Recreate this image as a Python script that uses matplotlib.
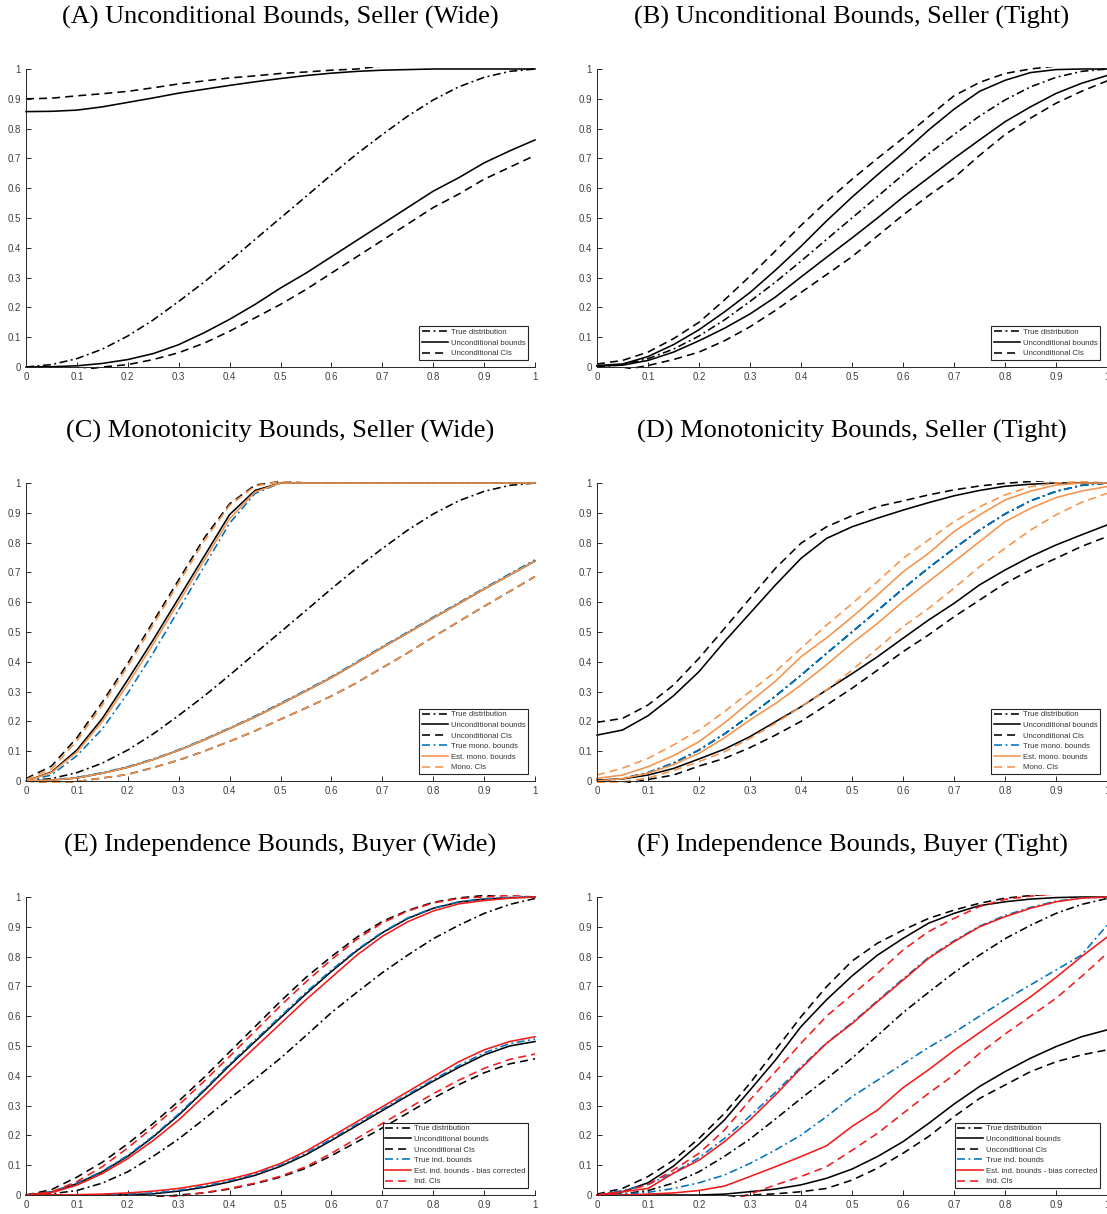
import numpy as np
import matplotlib
matplotlib.use("Agg")
import matplotlib.pyplot as plt
from matplotlib.patches import Rectangle

# grid of evaluation points (0, 0.05, ..., 1)
x = np.linspace(0, 1, 21)

# true distributions
true_seller = [0, 0.008, 0.028, 0.06, 0.104, 0.158, 0.22, 0.285, 0.355, 0.428, 0.5,
               0.572, 0.645, 0.715, 0.78, 0.842, 0.896, 0.94, 0.972, 0.992, 1.0]
true_buyer = [0, 0.004, 0.015, 0.04, 0.078, 0.13, 0.188, 0.255, 0.324, 0.39, 0.459,
              0.535, 0.612, 0.68, 0.746, 0.805, 0.86, 0.905, 0.945, 0.975, 0.995]

# (A) unconditional, seller, wide
a_unc_up = [0.857, 0.858, 0.862, 0.873, 0.888, 0.903, 0.919, 0.932, 0.945, 0.957, 0.968,
            0.978, 0.986, 0.992, 0.996, 0.998, 1.0, 1.0, 1.0, 1.0, 1.0]
a_unc_lo = [0, 0.001, 0.004, 0.012, 0.025, 0.045, 0.075, 0.115, 0.16, 0.21, 0.265,
            0.315, 0.37, 0.425, 0.48, 0.535, 0.59, 0.635, 0.685, 0.725, 0.762]
a_ci_up = [0.9, 0.902, 0.91, 0.917, 0.925, 0.937, 0.95, 0.96, 0.97, 0.977, 0.985,
           0.99, 0.996, 1.0, 1.01, 1.02, 1.03, 1.04, 1.05, 1.06, 1.06]
a_ci_lo = [-0.03, -0.025, -0.012, 0.0, 0.008, 0.025, 0.048, 0.08, 0.12, 0.165, 0.21,
           0.26, 0.315, 0.37, 0.425, 0.48, 0.535, 0.58, 0.63, 0.67, 0.71]

# (B) unconditional, seller, tight
b_unc_up = [0.005, 0.01, 0.035, 0.075, 0.125, 0.185, 0.25, 0.325, 0.405, 0.49, 0.57,
            0.645, 0.718, 0.795, 0.865, 0.925, 0.962, 0.988, 0.998, 1.0, 1.0]
b_unc_lo = [0.003, 0.006, 0.022, 0.05, 0.088, 0.13, 0.178, 0.235, 0.302, 0.368, 0.433,
            0.5, 0.57, 0.635, 0.7, 0.762, 0.823, 0.873, 0.918, 0.952, 0.978]
b_ci_up = [0.01, 0.022, 0.05, 0.095, 0.15, 0.225, 0.305, 0.39, 0.475, 0.555, 0.63,
           0.7, 0.768, 0.84, 0.91, 0.955, 0.985, 1.0, 1.01, 1.02, 1.03]
b_ci_lo = [-0.02, -0.01, 0.005, 0.025, 0.05, 0.088, 0.135, 0.19, 0.25, 0.31, 0.37,
           0.44, 0.51, 0.575, 0.635, 0.71, 0.78, 0.835, 0.885, 0.925, 0.96]

# (C) monotonicity, seller, wide
c_unc_up = [0.0, 0.03, 0.104, 0.21, 0.34, 0.474, 0.614, 0.754, 0.894, 0.975, 1.0,
            1.0, 1.0, 1.0, 1.0, 1.0, 1.0, 1.0, 1.0, 1.0, 1.0]
c_unc_lo = [0, 0.003, 0.01, 0.026, 0.046, 0.072, 0.103, 0.138, 0.176, 0.215, 0.258,
            0.302, 0.347, 0.397, 0.448, 0.497, 0.547, 0.595, 0.644, 0.691, 0.738]
c_ci_up = [0.008, 0.05, 0.145, 0.265, 0.395, 0.535, 0.675, 0.815, 0.93, 0.993, 1.005,
           1.01, 1.01, 1.01, 1.01, 1.01, 1.01, 1.01, 1.01, 1.01, 1.01]
c_ci_lo = [-0.01, -0.005, -0.002, 0.01, 0.022, 0.045, 0.07, 0.1, 0.133, 0.168, 0.207,
           0.245, 0.285, 0.33, 0.38, 0.43, 0.483, 0.535, 0.586, 0.636, 0.686]
c_true_mono_up = [0.0, 0.02, 0.085, 0.175, 0.295, 0.43, 0.575, 0.72, 0.865, 0.965, 1.0,
                  1.0, 1.0, 1.0, 1.0, 1.0, 1.0, 1.0, 1.0, 1.0, 1.0]
c_true_mono_lo = [0, 0.004, 0.012, 0.028, 0.048, 0.074, 0.105, 0.14, 0.178, 0.218, 0.261,
                  0.305, 0.35, 0.4, 0.451, 0.5, 0.55, 0.598, 0.647, 0.695, 0.742]
c_mono_up = [0.0, 0.028, 0.097, 0.2, 0.325, 0.46, 0.6, 0.74, 0.88, 0.97, 1.0,
             1.0, 1.0, 1.0, 1.0, 1.0, 1.0, 1.0, 1.0, 1.0, 1.0]
c_mono_lo = [0, 0.003, 0.01, 0.026, 0.046, 0.072, 0.103, 0.138, 0.176, 0.215, 0.258,
             0.302, 0.347, 0.397, 0.448, 0.497, 0.547, 0.595, 0.644, 0.691, 0.738]
c_mono_ci_up = [0.005, 0.04, 0.135, 0.255, 0.385, 0.525, 0.665, 0.805, 0.925, 0.99, 1.005,
                1.01, 1.01, 1.01, 1.01, 1.01, 1.01, 1.01, 1.01, 1.01, 1.01]
c_mono_ci_lo = [-0.01, -0.005, -0.002, 0.01, 0.022, 0.045, 0.07, 0.1, 0.133, 0.168, 0.207,
                0.245, 0.285, 0.33, 0.38, 0.43, 0.483, 0.535, 0.586, 0.636, 0.686]

# (D) monotonicity, seller, tight
d_unc_up = [0.154, 0.171, 0.219, 0.286, 0.367, 0.468, 0.563, 0.658, 0.747, 0.814, 0.853,
            0.882, 0.909, 0.934, 0.957, 0.975, 0.989, 0.996, 1.0, 1.0, 1.0]
d_unc_lo = [0.003, 0.007, 0.02, 0.042, 0.074, 0.107, 0.149, 0.199, 0.249, 0.305, 0.36,
            0.417, 0.479, 0.54, 0.596, 0.658, 0.708, 0.753, 0.792, 0.826, 0.859]
d_ci_up = [0.197, 0.21, 0.255, 0.322, 0.412, 0.512, 0.613, 0.714, 0.798, 0.853, 0.89,
           0.921, 0.94, 0.96, 0.977, 0.99, 0.999, 1.005, 1.01, 1.01, 1.01]
d_ci_lo = [-0.02, -0.01, 0.005, 0.02, 0.05, 0.076, 0.112, 0.154, 0.2, 0.255, 0.311,
           0.372, 0.434, 0.49, 0.551, 0.607, 0.663, 0.708, 0.747, 0.787, 0.82]
d_mono_up = [0.009, 0.02, 0.048, 0.085, 0.132, 0.195, 0.266, 0.335, 0.417, 0.48, 0.55,
             0.624, 0.702, 0.764, 0.837, 0.893, 0.943, 0.973, 0.993, 1.0, 1.0]
d_mono_lo = [0.0, 0.008, 0.026, 0.055, 0.093, 0.145, 0.205, 0.26, 0.322, 0.39, 0.462,
             0.529, 0.602, 0.669, 0.736, 0.803, 0.87, 0.915, 0.951, 0.973, 0.988]
d_mono_ci_up = [0.02, 0.043, 0.076, 0.121, 0.171, 0.233, 0.3, 0.367, 0.445, 0.523, 0.595,
                0.669, 0.747, 0.809, 0.87, 0.92, 0.96, 0.988, 1.0, 1.005, 1.01]
d_mono_ci_lo = [-0.005, -0.003, 0.01, 0.035, 0.065, 0.098, 0.143, 0.194, 0.249, 0.305, 0.372,
                0.445, 0.518, 0.579, 0.647, 0.719, 0.781, 0.842, 0.893, 0.935, 0.965]

# (E) independence, buyer, wide
e_unc_up = [0, 0.01, 0.038, 0.078, 0.13, 0.195, 0.268, 0.35, 0.435, 0.515, 0.595,
            0.675, 0.75, 0.82, 0.88, 0.928, 0.962, 0.983, 0.993, 0.998, 1.0]
e_unc_lo = [0, 0, 0, 0, 0.001, 0.004, 0.013, 0.026, 0.044, 0.066, 0.096,
            0.135, 0.183, 0.233, 0.283, 0.333, 0.382, 0.428, 0.47, 0.5, 0.515]
e_ci_up = [0.0, 0.018, 0.06, 0.11, 0.172, 0.24, 0.315, 0.395, 0.48, 0.565, 0.65,
           0.73, 0.8, 0.865, 0.918, 0.955, 0.982, 0.997, 1.005, 1.01, 1.01]
e_ci_lo = [-0.05, -0.04, -0.03, -0.02, -0.015, -0.008, 0.0, 0.007, 0.02, 0.038, 0.06,
           0.09, 0.132, 0.178, 0.225, 0.275, 0.325, 0.37, 0.41, 0.44, 0.457]
e_true_ind_up = [0, 0.011, 0.04, 0.08, 0.133, 0.198, 0.272, 0.354, 0.44, 0.52, 0.6,
                 0.68, 0.755, 0.823, 0.882, 0.93, 0.963, 0.984, 0.994, 0.998, 1.0]
e_true_ind_lo = [0, 0, 0, 0.001, 0.003, 0.007, 0.016, 0.03, 0.048, 0.07, 0.1,
                 0.14, 0.188, 0.238, 0.288, 0.338, 0.387, 0.434, 0.477, 0.508, 0.523]
e_ind_up = [0, 0.008, 0.033, 0.072, 0.122, 0.183, 0.252, 0.332, 0.415, 0.495, 0.575,
            0.655, 0.73, 0.805, 0.868, 0.917, 0.953, 0.977, 0.988, 0.996, 1.0]
e_ind_lo = [0, 0, 0.001, 0.003, 0.007, 0.013, 0.022, 0.036, 0.053, 0.075, 0.106,
            0.147, 0.196, 0.246, 0.296, 0.347, 0.397, 0.447, 0.487, 0.515, 0.531]
e_ind_ci_up = [0, 0.01, 0.045, 0.095, 0.158, 0.228, 0.302, 0.382, 0.465, 0.55, 0.635,
               0.715, 0.79, 0.858, 0.913, 0.953, 0.98, 0.995, 1.0, 1.005, 1.01]
e_ind_ci_lo = [-0.05, -0.04, -0.03, -0.02, -0.015, -0.01, -0.004, 0.008, 0.022, 0.04, 0.063,
               0.095, 0.14, 0.19, 0.24, 0.29, 0.34, 0.385, 0.425, 0.455, 0.473]

# (F) independence, buyer, tight
f_unc_up = [0.0, 0.011, 0.041, 0.097, 0.171, 0.252, 0.352, 0.453, 0.565, 0.655, 0.735,
            0.805, 0.861, 0.912, 0.945, 0.971, 0.984, 0.993, 0.998, 1.0, 1.0]
f_unc_lo = [0, 0, 0, 0, 0, 0.003, 0.011, 0.02, 0.034, 0.056, 0.087,
            0.129, 0.179, 0.24, 0.305, 0.364, 0.414, 0.459, 0.498, 0.531, 0.554]
f_ci_up = [0.003, 0.022, 0.062, 0.117, 0.19, 0.274, 0.375, 0.487, 0.598, 0.699, 0.785,
           0.845, 0.889, 0.928, 0.956, 0.979, 0.996, 1.005, 1.01, 1.01, 1.01]
f_ci_lo = [-0.05, -0.04, -0.03, -0.025, -0.02, -0.01, 0.0, 0.004, 0.011, 0.022, 0.05,
           0.09, 0.14, 0.196, 0.263, 0.324, 0.369, 0.414, 0.447, 0.47, 0.487]
f_true_ind_up = [0.0, 0.015, 0.035, 0.075, 0.125, 0.19, 0.265, 0.345, 0.43, 0.51, 0.578,
                 0.652, 0.725, 0.797, 0.853, 0.902, 0.938, 0.965, 0.986, 0.997, 1.0]
f_true_ind_lo = [0.0, 0.003, 0.009, 0.022, 0.041, 0.067, 0.106, 0.151, 0.201, 0.263, 0.33,
                 0.385, 0.44, 0.495, 0.545, 0.6, 0.655, 0.705, 0.755, 0.805, 0.905]
f_ind_up = [0.0, 0.011, 0.022, 0.073, 0.117, 0.179, 0.252, 0.336, 0.425, 0.509, 0.575,
            0.649, 0.721, 0.794, 0.85, 0.9, 0.934, 0.962, 0.984, 0.996, 1.0]
f_ind_lo = [0.0, 0.0, 0.003, 0.007, 0.015, 0.03, 0.062, 0.095, 0.129, 0.165, 0.23,
            0.285, 0.36, 0.42, 0.485, 0.545, 0.605, 0.665, 0.73, 0.8, 0.865]
f_ind_ci_up = [0.0, 0.01, 0.035, 0.084, 0.14, 0.218, 0.319, 0.414, 0.509, 0.6, 0.672,
               0.744, 0.822, 0.884, 0.928, 0.968, 0.992, 1.003, 1.01, 1.01, 1.01]
f_ind_ci_lo = [-0.05, -0.045, -0.04, -0.035, -0.03, -0.02, 0.003, 0.034, 0.062, 0.095, 0.15,
               0.207, 0.274, 0.341, 0.403, 0.475, 0.54, 0.6, 0.66, 0.733, 0.811]

titles = ["(A) Unconditional Bounds, Seller (Wide)", "(B) Unconditional Bounds, Seller (Tight)",
          "(C) Monotonicity Bounds, Seller (Wide)", "(D) Monotonicity Bounds, Seller (Tight)",
          "(E) Independence Bounds, Buyer (Wide)", "(F) Independence Bounds, Buyer (Tight)"]

BLUE = "#0072BD"
ORANGE = "#F5934A"
RED = "#F21A1A"
SOLID = "-"
DASH = (0, (5, 3.2))
DASHDOT = (0, (5, 2.2, 1.2, 2.2))

# (label, colour, linestyle, list of curves)
panels = [
    [("True distribution", "k", DASHDOT, [true_seller]),
     ("Unconditional bounds", "k", SOLID, [a_unc_up, a_unc_lo]),
     ("Unconditional CIs", "k", DASH, [a_ci_up, a_ci_lo])],
    [("True distribution", "k", DASHDOT, [true_seller]),
     ("Unconditional bounds", "k", SOLID, [b_unc_up, b_unc_lo]),
     ("Unconditional CIs", "k", DASH, [b_ci_up, b_ci_lo])],
    [("True distribution", "k", DASHDOT, [true_seller]),
     ("Unconditional bounds", "k", SOLID, [c_unc_up, c_unc_lo]),
     ("Unconditional CIs", "k", DASH, [c_ci_up, c_ci_lo]),
     ("True mono. bounds", BLUE, DASHDOT, [c_true_mono_up, c_true_mono_lo]),
     ("Est. mono. bounds", ORANGE, SOLID, [c_mono_up, c_mono_lo]),
     ("Mono. CIs", ORANGE, DASH, [c_mono_ci_up, c_mono_ci_lo])],
    [("True distribution", "k", DASHDOT, [true_seller]),
     ("Unconditional bounds", "k", SOLID, [d_unc_up, d_unc_lo]),
     ("Unconditional CIs", "k", DASH, [d_ci_up, d_ci_lo]),
     ("True mono. bounds", BLUE, DASHDOT, [true_seller, true_seller]),
     ("Est. mono. bounds", ORANGE, SOLID, [d_mono_up, d_mono_lo]),
     ("Mono. CIs", ORANGE, DASH, [d_mono_ci_up, d_mono_ci_lo])],
    [("True distribution", "k", DASHDOT, [true_buyer]),
     ("Unconditional bounds", "k", SOLID, [e_unc_up, e_unc_lo]),
     ("Unconditional CIs", "k", DASH, [e_ci_up, e_ci_lo]),
     ("True ind. bounds", BLUE, DASHDOT, [e_true_ind_up, e_true_ind_lo]),
     ("Est. ind. bounds - bias corrected", RED, SOLID, [e_ind_up, e_ind_lo]),
     ("Ind. CIs", RED, DASH, [e_ind_ci_up, e_ind_ci_lo])],
    [("True distribution", "k", DASHDOT, [true_buyer]),
     ("Unconditional bounds", "k", SOLID, [f_unc_up, f_unc_lo]),
     ("Unconditional CIs", "k", DASH, [f_ci_up, f_ci_lo]),
     ("True ind. bounds", BLUE, DASHDOT, [f_true_ind_up, f_true_ind_lo]),
     ("Est. ind. bounds - bias corrected", RED, SOLID, [f_ind_up, f_ind_lo]),
     ("Ind. CIs", RED, DASH, [f_ind_ci_up, f_ind_ci_lo])],
]

W, H = 1107, 1214
fig = plt.figure(figsize=(W / 100, H / 100), dpi=100)

col_x = [26, 597]
col_w = [509, 510]
row_top = [69, 483, 897]
row_h = 298
title_y = [17, 431, 845]

ticks = np.linspace(0, 1, 11)
tick_labels = ["0", "0.1", "0.2", "0.3", "0.4", "0.5", "0.6", "0.7", "0.8", "0.9", "1"]
GREY = "#262626"

for i, curves in enumerate(panels):
    r, c = divmod(i, 2)
    ax = fig.add_axes([col_x[c] / W, 1 - (row_top[r] + row_h) / H, col_w[c] / W, row_h / H])
    clip = Rectangle((-0.01, -0.006), 1.02, 1.012, transform=ax.transAxes, visible=False)
    ax.add_patch(clip)
    for label, color, ls, lines in curves:
        for k, y in enumerate(lines):
            ln, = ax.plot(x, y, color=color, linestyle=ls, linewidth=1.15,
                          label=label if k == 0 else "_nolegend_")
            ln.set_clip_path(clip)
    ax.set_xlim(0, 1)
    ax.set_ylim(0, 1)
    ax.set_xticks(ticks)
    ax.set_xticklabels(tick_labels)
    ax.set_yticks(ticks)
    ax.set_yticklabels(tick_labels)
    ax.tick_params(direction="in", length=3.5, width=0.7, colors=GREY,
                   labelcolor="#404040", labelsize=7, pad=3.5)
    for lab in ax.get_xticklabels() + ax.get_yticklabels():
        lab.set_family("Liberation Sans")
    for side in ["top", "right"]:
        ax.spines[side].set_visible(False)
    for side in ["left", "bottom"]:
        ax.spines[side].set_color(GREY)
        ax.spines[side].set_linewidth(0.7)
    leg = ax.legend(loc="lower right", prop={"family": "Liberation Sans", "size": 5.6},
                    handlelength=3.4, handletextpad=0.3, labelspacing=0.4,
                    borderpad=0.3, borderaxespad=0.95, frameon=True, fancybox=False,
                    framealpha=1)
    leg.get_frame().set_edgecolor(GREY)
    leg.get_frame().set_linewidth(0.8)
    for t in leg.get_texts():
        t.set_color("#333333")
    fig.text((col_x[c] + col_w[c] / 2) / W, 1 - title_y[r] / H, titles[i],
             ha="center", va="center", family="Liberation Serif", fontsize=19)

fig.savefig("out.png", dpi=100)
